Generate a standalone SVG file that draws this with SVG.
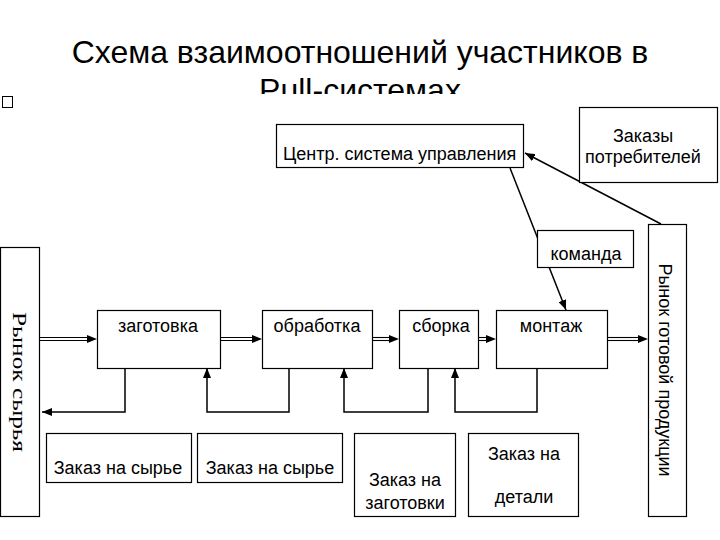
<svg xmlns="http://www.w3.org/2000/svg" width="720" height="540" viewBox="0 0 720 540">
<style>
.box{fill:#fff;stroke:#000;stroke-width:1.2}
.t{font-family:"Liberation Sans",Arial,sans-serif;font-size:18px;fill:#000}
.c{text-anchor:middle}
.ln{stroke:#000;stroke-width:1.5;fill:none}
.dl{stroke:#000;stroke-width:1.1;fill:none}
.ah{fill:#000}
</style>
<defs>
<marker id="arr" markerUnits="userSpaceOnUse" markerWidth="10" markerHeight="8" refX="10" refY="4" orient="auto">
<path d="M0,0 L10,4 L0,8 z" fill="#000"/>
</marker>
<clipPath id="clipT"><rect x="0" y="0" width="720" height="94"/></clipPath>
</defs>
<rect width="720" height="540" fill="#fff"/>
<g id="title">
<text class="c" x="360" y="63" font-family="Liberation Sans, Arial, sans-serif" font-size="32">Схема взаимоотношений участников в</text>
<text class="c" x="360" y="101" font-family="Liberation Sans, Arial, sans-serif" font-size="32" clip-path="url(#clipT)">Pull-системах</text>
<rect x="2.5" y="96.5" width="10" height="11" fill="none" stroke="#000" stroke-width="1"/>
</g>
<g id="connectors">
<line class="ln" x1="510" y1="168" x2="566" y2="310" marker-end="url(#arr)"/>
<line class="ln" x1="661" y1="224" x2="525" y2="153" marker-end="url(#arr)"/>
<g>
<line class="dl" x1="40" y1="337.5" x2="88" y2="337.5"/><line class="dl" x1="40" y1="340.5" x2="88" y2="340.5"/>
<polygon class="ah" points="87,335 97,339 87,343"/>
<line class="dl" x1="220" y1="337.5" x2="253" y2="337.5"/><line class="dl" x1="220" y1="340.5" x2="253" y2="340.5"/>
<polygon class="ah" points="252,335 262,339 252,343"/>
<line class="dl" x1="372" y1="337.5" x2="390" y2="337.5"/><line class="dl" x1="372" y1="340.5" x2="390" y2="340.5"/>
<polygon class="ah" points="389,335 399,339 389,343"/>
<line class="dl" x1="478" y1="337.5" x2="487" y2="337.5"/><line class="dl" x1="478" y1="340.5" x2="487" y2="340.5"/>
<polygon class="ah" points="486,335 496,339 486,343"/>
<line class="dl" x1="607" y1="337.5" x2="639" y2="337.5"/><line class="dl" x1="607" y1="340.5" x2="639" y2="340.5"/>
<polygon class="ah" points="638,335 648,339 638,343"/>
</g>
<polyline class="ln" points="125,368 125,412 42,412" marker-end="url(#arr)"/>
<polyline class="ln" points="289,368 289,412 207,412 207,368" marker-end="url(#arr)"/>
<polyline class="ln" points="428,368 428,412 344,412 344,368" marker-end="url(#arr)"/>
<polyline class="ln" points="537,368 537,412 455,412 455,368" marker-end="url(#arr)"/>
</g>
<g id="center">
<rect class="box" x="276.5" y="124.5" width="247" height="43"/>
<text class="t" x="283" y="160">Центр. система управления</text>
</g>
<g id="orders">
<rect class="box" x="579.5" y="107.5" width="138" height="75"/>
<text class="t c" x="643" y="142">Заказы</text>
<text class="t c" x="643" y="163">потребителей</text>
</g>
<g id="command">
<rect class="box" x="537.5" y="230.5" width="96" height="37"/>
<text class="t c" x="586" y="260">команда</text>
</g>
<g id="raw-market">
<rect class="box" x="0.5" y="247.5" width="39" height="269"/>
<text transform="translate(13,382) rotate(90)" text-anchor="middle" font-family="Liberation Serif, Times New Roman, serif" font-size="19" textLength="140" lengthAdjust="spacingAndGlyphs">Рынок  сырья</text>
</g>
<g id="product-market">
<rect class="box" x="648.5" y="224.5" width="38" height="292"/>
<text class="t c" transform="translate(659,370) rotate(90)">Рынок готовой продукции</text>
</g>
<g id="zagotovka">
<rect class="box" x="97.5" y="310.5" width="123" height="58"/>
<text class="t c" x="158" y="332">заготовка</text>
</g>
<g id="obrabotka">
<rect class="box" x="262.5" y="310.5" width="110" height="58"/>
<text class="t c" x="317" y="332">обработка</text>
</g>
<g id="sborka">
<rect class="box" x="399.5" y="310.5" width="79" height="58"/>
<text class="t c" x="441" y="332">сборка</text>
</g>
<g id="montazh">
<rect class="box" x="496.5" y="310.5" width="111" height="58"/>
<text class="t c" x="551" y="332">монтаж</text>
</g>
<g id="order-raw-1">
<rect class="box" x="46.5" y="433.5" width="145" height="49"/>
<text class="t c" x="118" y="474">Заказ на сырье</text>
</g>
<g id="order-raw-2">
<rect class="box" x="197.5" y="433.5" width="145" height="49"/>
<text class="t c" x="270" y="474">Заказ на сырье</text>
</g>
<g id="order-blanks">
<rect class="box" x="354.5" y="433.5" width="101" height="83"/>
<text class="t c" x="405" y="486">Заказ на</text>
<text class="t c" x="405" y="509">заготовки</text>
</g>
<g id="order-parts">
<rect class="box" x="468.5" y="433.5" width="110" height="83"/>
<text class="t c" x="524" y="460">Заказ на</text>
<text class="t c" x="524" y="503">детали</text>
</g>
</svg>
